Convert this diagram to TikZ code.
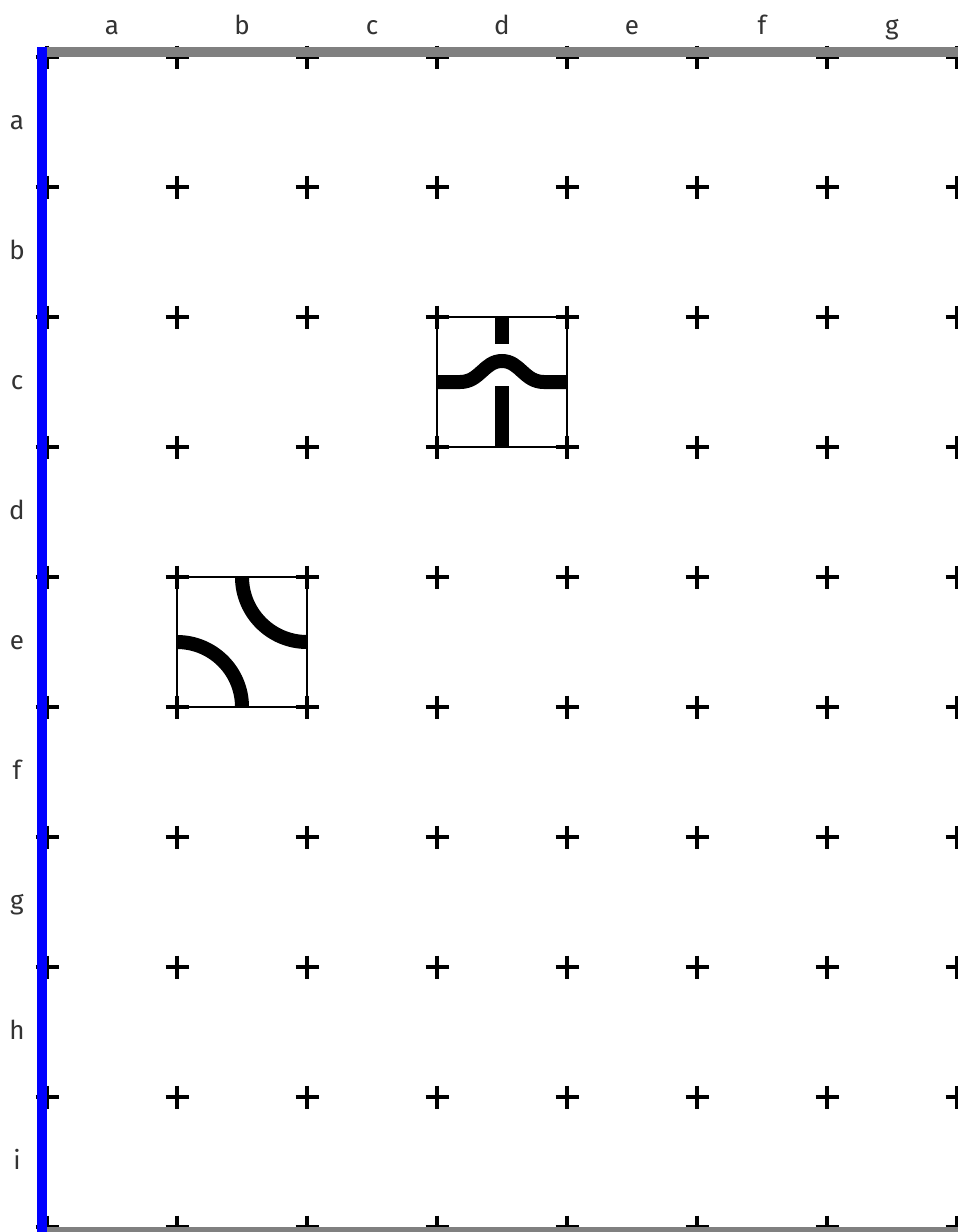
\documentclass[tikz,border=0pt]{standalone}
\usepackage{fontspec}
\setmainfont{Fira Sans}
\begin{document}
\begin{tikzpicture}[x=0.5pt,y=-0.5pt,
  crossmark/.style={line width=1.8pt,black},
  tileframe/.style={draw=black,line width=0.75pt,fill=white},
  wire/.style={line width=7pt,black},
  lbl/.style={font=\fontsize{13}{15}\selectfont,text=black!80,anchor=base,inner sep=0pt}]
\useasboundingbox (0,0) rectangle (958,1232);
% tiles
\draw[tileframe] (437,317) rectangle (567,447);
\draw[wire] (502,317) -- (502,344);
\draw[wire] (502,386) -- (502,447);
\draw[wire] (437,382) -- (460,382) .. controls (480,382) and (484,361) .. (502,361) .. controls (520,361) and (524,382) .. (544,382) -- (567,382);
\draw[tileframe] (177,577) rectangle (307,707);
\draw[wire] (242,577) arc (180:90:65);
\draw[wire] (177,642) arc (270:360:65);
% crosses
\foreach \cx in {47,177,...,957}
  \foreach \cy in {57,187,...,1227}
    \draw[crossmark] (\cx-11.5,\cy) -- (\cx+11.5,\cy) (\cx,\cy-11.5) -- (\cx,\cy+11.5);
% border lines
\draw[line width=5pt,draw={rgb,255:red,128;green,128;blue,128}] (47,52) -- (958,52);
\draw[line width=5pt,draw={rgb,255:red,128;green,128;blue,128}] (37,1232) -- (958,1232);
\draw[line width=5pt,draw={rgb,255:red,0;green,0;blue,255}] (42,47) -- (42,1232);
% labels
\foreach \l [count=\k from 0] in {a,b,c,d,e,f,g}
  \node[lbl] (col\l) at (112+130*\k,34) {\l};
\foreach \l [count=\k from 0] in {a,b,c,d,e,f,g,h,i}
  \node[lbl] (row\l) at (17,129+130*\k) {\l};
\end{tikzpicture}
\end{document}
